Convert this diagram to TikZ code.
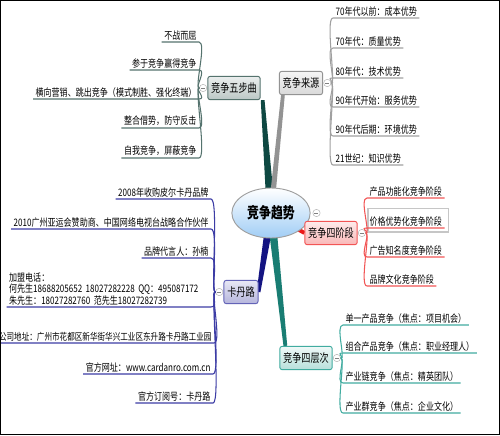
\documentclass[tikz,border=0pt]{standalone}
\usepackage{fontspec}
\setmainfont{Noto Sans CJK SC}[FakeStretch=0.78]
\usepackage{tikz}
\usetikzlibrary{positioning,shapes.geometric,calc,backgrounds}
\definecolor{skyb}{RGB}{160,205,245}
\definecolor{trunkteal}{RGB}{14,72,66}
\definecolor{stepline}{RGB}{85,115,110}
\definecolor{srcline}{RGB}{160,160,160}
\definecolor{kadannavy}{RGB}{20,20,130}
\definecolor{kadanline}{RGB}{60,60,165}
\definecolor{stagered}{RGB}{235,25,25}
\definecolor{stageline}{RGB}{242,85,85}
\definecolor{levelteal}{RGB}{25,125,115}
\definecolor{levelline}{RGB}{65,172,160}
\tikzset{
  topic/.style={ellipse, draw=gray!75, line width=0.8pt, top color=white, bottom color=skyb, minimum width=20.4mm, minimum height=15mm, font=\fontsize{13}{15}\selectfont\bfseries},
  branch/.style={rounded corners=2pt, line width=0.8pt, inner xsep=1mm, minimum height=7mm, font=\fontsize{10}{12}\selectfont},
  leaf/.style={inner xsep=2pt, inner ysep=1.5pt, font=\fontsize{8.8}{9.6}\selectfont},
  fold/.style={circle, draw=gray!60, fill=white, line width=0.4pt, inner sep=0pt, minimum size=2.2mm,
    path picture={\draw[gray, line width=0.5pt] ([xshift=-0.6mm]path picture bounding box.center) -- ([xshift=0.6mm]path picture bounding box.center);}},
  twig/.style={line width=0.9pt},
}
% tapered limb: from, to, half width at start, colour
\newcommand{\limb}[4]{%
  \fill[#4] ($(#1)!#3!90:(#2)$) -- ($(#2)!1.6pt!-90:(#1)$) -- ($(#2)!1.6pt!90:(#1)$) -- ($(#1)!#3!-90:(#2)$) -- cycle;}

\begin{document}
\begin{tikzpicture}[x=0.3mm, y=-0.3mm]
  \clip (0,0) rectangle (500,435);

  % centre
  \node[topic] (c) at (271,213) {竞争趋势};
  \node[fold, right=0.6mm of c] (fc) {};

  % branches
  \node[branch, draw=stepline, top color=white!88!stepline, bottom color=stepline!40] (b1) at (234,88) {竞争五步曲};
  \node[branch, draw=gray!85, top color=gray!8, bottom color=gray!30] (b2) at (301,83) {竞争来源};
  \node[branch, draw=kadanline!80, top color=kadanline!12, bottom color=kadanline!38] (b3) at (241,292) {卡丹路};
  \node[branch, draw=stageline, top color=stageline!12, bottom color=stageline!42] (b4) at (331,233) {竞争四阶段};
  \node[branch, draw=levelline, top color=levelline!8, bottom color=levelline!38] (b5) at (306,358) {竞争四层次};

  \node[fold, left=0.1mm of b1] (f1) {};
  \node[fold, right=0.1mm of b2] (f2) {};
  \node[fold, left=0.1mm of b3] (f3) {};
  \node[fold, right=0.1mm of b4] (f4) {};
  \node[fold, right=0.1mm of b5] (f5) {};

  % 竞争五步曲
  \node[leaf, anchor=south east] (w1) at (199,42) {不战而屈};
  \node[leaf, anchor=south east] (w2) at (199,70) {参于竞争赢得竞争};
  \node[leaf, anchor=south east] (w3) at (199,99) {横向营销、跳出竞争（模式制胜、强化终端）};
  \node[leaf, anchor=south east] (w4) at (199,128) {整合借势，防守反击};
  \node[leaf, anchor=south east] (w5) at (199,158) {自我竞争，屏蔽竞争};

  % 竞争来源
  \node[leaf, anchor=south west] (s1) at (333,18) {70年代以前：成本优势};
  \node[leaf, anchor=south west] (s2) at (333,48) {70年代：质量优势};
  \node[leaf, anchor=south west] (s3) at (333,78) {80年代：技术优势};
  \node[leaf, anchor=south west] (s4) at (333,107) {90年代开始：服务优势};
  \node[leaf, anchor=south west] (s5) at (333,136) {90年代后期：环境优势};
  \node[leaf, anchor=south west] (s6) at (333,165) {21世纪：知识优势};

  % 卡丹路
  \node[leaf, anchor=south east] (k1) at (211,199) {2008年收购皮尔卡丹品牌};
  \node[leaf, anchor=south east] (k2) at (211,229) {2010广州亚运会赞助商、中国网络电视台战略合作伙伴};
  \node[leaf, anchor=south east] (k3) at (211,258) {品牌代言人：孙楠};
  \node[leaf, anchor=south east, text width=59.8mm, align=left] (k4) at (211,307)
    {加盟电话：\\何先生18688205652 18027282228 QQ：495087172\\朱先生：18027282760 范先生18027282739};
  \node[leaf, anchor=south east, font=\fontsize{8.3}{9.6}\selectfont] (k5) at (214,343) {公司地址：广州市花都区新华街华兴工业区东升路卡丹路工业园};
  \node[leaf, anchor=south east] (k6) at (213,374) {官方网址：www.cardanro.com.cn};
  \node[leaf, anchor=south east] (k7) at (213,403) {官方订阅号：卡丹路};

  % 竞争四阶段
  \node[leaf, anchor=south west] (t1) at (367,198) {产品功能化竞争阶段};
  \node[leaf, anchor=south west] (t2) at (367,228) {价格优势化竞争阶段};
  \node[leaf, anchor=south west] (t3) at (367,257) {广告知名度竞争阶段};
  \node[leaf, anchor=south west] (t4) at (367,286) {品牌文化竞争阶段};
  \draw[gray!45, line width=1.2pt] ($(t2.south west)+(1,4)$) rectangle ($(t2.north east)+(4,-6)$);

  % 竞争四层次
  \node[leaf, anchor=south west] (l1) at (343,325) {单一产品竞争（焦点：项目机会）};
  \node[leaf, anchor=south west] (l2) at (343,353) {组合产品竞争（焦点：职业经理人）};
  \node[leaf, anchor=south west] (l3) at (343,383) {产业链竞争（焦点：精英团队）};
  \node[leaf, anchor=south west] (l4) at (343,413) {产业群竞争（焦点：企业文化）};

  % twigs
  \foreach \n in {w1,w2,w3,w4,w5}
    \draw[twig, stepline] (f1.west) .. controls +(-5,0) and +(8,0) .. (\n.south east) -- (\n.south west);
  \foreach \n in {s1,s2,s3,s4,s5,s6}
    \draw[twig, srcline] (f2.east) .. controls +(5,0) and +(-8,0) .. (\n.south west) -- (\n.south east);
  \foreach \n in {k1,k2,k3,k4,k5,k6,k7}
    \draw[twig, kadanline] (f3.west) .. controls +(-5,0) and +(8,0) .. (\n.south east) -- (\n.south west);
  \foreach \n in {t1,t2,t3,t4}
    \draw[twig, stageline] (f4.east) .. controls +(5,0) and +(-8,0) .. (\n.south west) -- (\n.south east);
  \foreach \n in {l1,l2,l3,l4}
    \draw[twig, levelline] (f5.east) .. controls +(5,0) and +(-8,0) .. (\n.south west) -- (\n.south east);

  % limbs behind the nodes
  \begin{scope}[on background layer]
    \fill[white] (0,0) rectangle (500,435);
    \limb{c.center}{$(b1.south east)+(2,0)$}{3.6pt}{trunkteal}
    \limb{c.center}{$(b2.south west)+(4,0)$}{2.4pt}{gray!85}
    \limb{c.center}{b3.east}{3.6pt}{kadannavy}
    \limb{c.center}{b4.west}{2.6pt}{stagered}
    \limb{c.center}{$(b5.north west)+(6,0)$}{3.6pt}{levelteal}
  \end{scope}

  % frame
  \draw[black, line width=1pt] (0.6,0.6) rectangle (499.4,434.4);
\end{tikzpicture}
\end{document}
